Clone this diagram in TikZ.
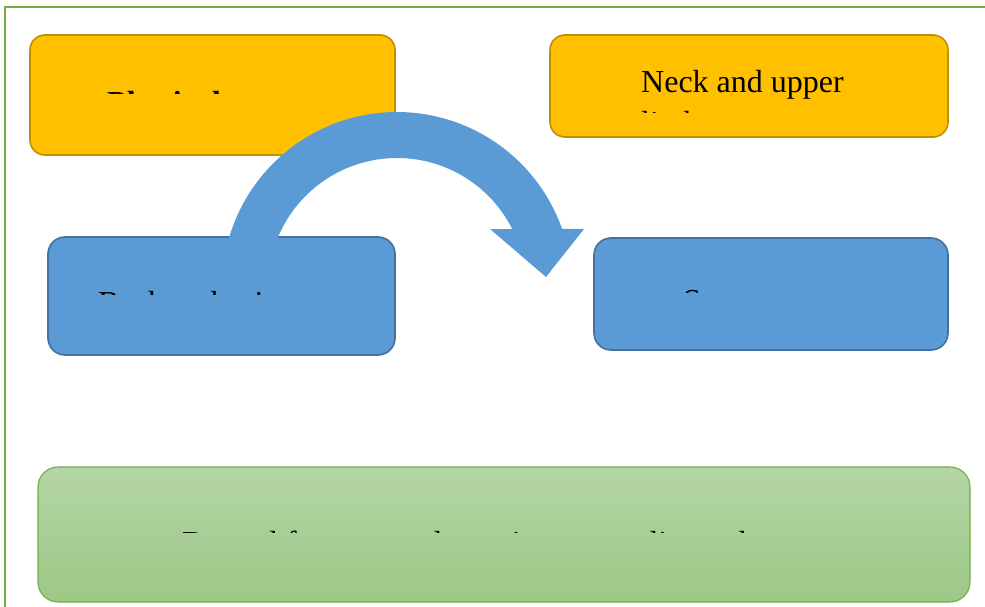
\documentclass[tikz,border=0pt]{standalone}
\usepackage{fontspec}
\setmainfont{Liberation Serif}
\definecolor{yellowfill}{HTML}{FFC000}
\definecolor{yellowedge}{HTML}{BF9000}
\definecolor{bluefill}{HTML}{5B9BD5}
\definecolor{blueedge}{HTML}{41719C}
\definecolor{greentop}{HTML}{B4D5A5}
\definecolor{greenbot}{HTML}{9CC886}
\definecolor{greenedge}{HTML}{70AD47}
\begin{document}
\begin{tikzpicture}[x=1pt,y=-1pt,
  yellowbox/.style={draw=yellowedge, fill=yellowfill, line width=1.6pt, rounded corners=15pt},
  bluebox/.style={draw=blueedge, fill=bluefill, line width=1.6pt, rounded corners=17pt},
  greenbox/.style={draw=greenedge, top color=greentop, bottom color=greenbot, line width=1.1pt, rounded corners=20pt},
  boxtext/.style={anchor=base west, inner sep=0pt, font=\fontsize{32}{40}\selectfont}]
\useasboundingbox (0,0) rectangle (985,607);

% outer frame
\draw[greenedge, line width=1.8pt] (5,607) -- (5,7) -- (985,7);

% boxes
\node[yellowbox, minimum width=365pt, minimum height=120pt] (phys) at (212.5,95) {};
\node[yellowbox, minimum width=398pt, minimum height=102pt] (neck) at (749,86) {};
\node[bluebox, minimum width=347pt, minimum height=118pt] (back) at (221.5,296) {};
\node[bluebox, minimum width=354pt, minimum height=112pt] (sys) at (771,294) {};
\node[greenbox, minimum width=932pt, minimum height=135pt] (derm) at (504,534.5) {};

% box texts, cut off below the visible band of each box
\begin{scope}
  \clip (phys.north west) rectangle (395,94);
  \node[boxtext, font=\fontsize{32}{40}\selectfont\bfseries] (physA) at (107,114) {Physical};
  \node[boxtext, font=\fontsize{32}{40}\selectfont\bfseries] (physB) at (107,154) {examination};
\end{scope}
\begin{scope}
  \clip (neck.north west) rectangle (948,113);
  \node[boxtext] (neckA) at (641,93) {Neck and upper};
  \node[boxtext] (neckB) at (641,134) {limbs};
\end{scope}
\begin{scope}
  \clip (back.north west) rectangle (395,294);
  \node[boxtext] (backA) at (98,313) {Back and spine};
\end{scope}
\begin{scope}
  \clip (sys.north west) rectangle (948,292);
  \node[boxtext] (sysA) at (683,311) {Systems};
  \node[boxtext] (sysB) at (683,351) {review};
\end{scope}
\begin{scope}
  \clip (derm.north west) rectangle (970,532);
  \node[boxtext] (dermA) at (182,553) {Dermal features and scarring, or quality and sores};
\end{scope}

% curved block arrow from the back box over to the systems box
\fill[bluefill]
  plot[domain=-164.4:-19.4, samples=90] ({397+175*cos(\x)},{287+175*sin(\x)})
  -- (584,229) -- (546,277) -- (490,229)
  -- plot[domain=-26.7:-158.6, samples=90] ({397+129*cos(\x)},{287+129*sin(\x)})
  -- cycle;
\end{tikzpicture}
\end{document}
